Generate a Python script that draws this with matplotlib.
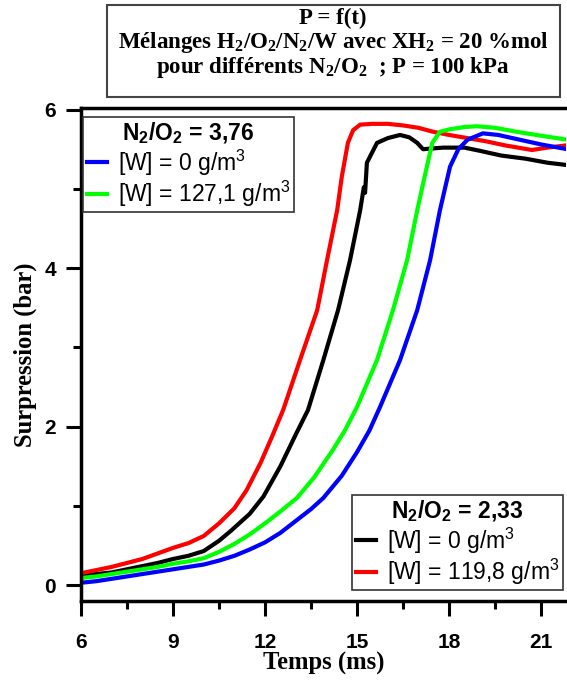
import matplotlib
matplotlib.use("Agg")
import matplotlib.pyplot as plt
from matplotlib.patches import Rectangle
from matplotlib.ticker import MultipleLocator

# N2/O2 = 2,33 ; [W] = 0 g/m3
t_noir = [6.0, 6.5, 7.0, 7.5, 8.0, 8.5, 9.0, 9.5, 10.0, 10.5, 10.9, 11.5, 11.95,
          12.5, 13.0, 13.4, 13.9, 14.38, 14.77, 15.1, 15.22, 15.26, 15.32, 15.65,
          16.0, 16.4, 16.7, 16.96, 17.15, 17.8, 18.5, 19.0, 19.7, 20.5, 21.2, 21.85]
p_noir = [0.12, 0.14, 0.16, 0.2, 0.24, 0.28, 0.33, 0.37, 0.43, 0.56, 0.69, 0.9, 1.12,
          1.5, 1.9, 2.21, 2.84, 3.47, 4.1, 4.73, 5.02, 4.95, 5.33, 5.58,
          5.64, 5.68, 5.65, 5.58, 5.5, 5.52, 5.52, 5.48, 5.42, 5.38, 5.33, 5.3]

# N2/O2 = 2,33 ; [W] = 119,8 g/m3
t_rouge = [6.0, 6.5, 7.0, 7.5, 8.0, 8.5, 9.0, 9.5, 10.0, 10.5, 11.0, 11.4, 11.85,
           12.2, 12.59, 13.14, 13.7, 14.02, 14.35, 14.5, 14.7, 14.87, 15.1, 15.5,
           16.0, 16.5, 17.0, 17.48, 18.0, 18.6, 19.2, 19.8, 20.7, 21.2, 21.85]
p_rouge = [0.15, 0.19, 0.23, 0.28, 0.33, 0.4, 0.47, 0.53, 0.62, 0.78, 0.97, 1.2, 1.54,
           1.85, 2.21, 2.84, 3.47, 4.1, 4.73, 5.15, 5.58, 5.74, 5.81, 5.82,
           5.82, 5.8, 5.77, 5.72, 5.68, 5.64, 5.6, 5.55, 5.49, 5.52, 5.55]

# N2/O2 = 3,76 ; [W] = 127,1 g/m3
t_vert = [6.0, 6.5, 7.0, 7.5, 8.0, 8.5, 9.0, 9.5, 10.0, 10.5, 11.0, 11.5, 12.0,
          12.5, 13.04, 13.6, 14.2, 14.6, 15.0, 15.65, 16.17, 16.63, 16.96, 17.2,
          17.45, 17.7, 18.0, 18.5, 18.9, 19.5, 20.2, 21.0, 21.85]
p_vert = [0.09, 0.11, 0.14, 0.17, 0.2, 0.23, 0.27, 0.3, 0.34, 0.42, 0.52, 0.64, 0.78,
          0.93, 1.1, 1.36, 1.7, 1.95, 2.25, 2.84, 3.47, 4.1, 4.73, 5.15,
          5.58, 5.72, 5.75, 5.78, 5.79, 5.77, 5.72, 5.67, 5.62]

# N2/O2 = 3,76 ; [W] = 0 g/m3
t_bleu = [6.0, 6.5, 7.0, 7.5, 8.0, 8.5, 9.0, 9.5, 10.0, 10.5, 11.0, 11.5, 12.0,
          12.5, 13.0, 13.5, 13.9, 14.5, 15.0, 15.4, 15.75, 16.4, 16.96, 17.38,
          17.7, 18.03, 18.3, 18.6, 19.1, 19.6, 20.3, 21.0, 21.85]
p_bleu = [0.03, 0.05, 0.08, 0.11, 0.14, 0.17, 0.2, 0.23, 0.26, 0.31, 0.37, 0.45, 0.54,
          0.66, 0.81, 0.96, 1.1, 1.38, 1.68, 1.95, 2.25, 2.84, 3.47, 4.1,
          4.73, 5.28, 5.5, 5.62, 5.7, 5.68, 5.62, 5.56, 5.5]

serif = "Liberation Serif"
sans = "Liberation Sans"

W, H = 567, 680
fig = plt.figure(figsize=(W / 100, H / 100), dpi=100)
ax = fig.add_axes([81 / W, 1 - 601 / H, (566 - 81) / W, (601 - 108) / H])

l_noir, = ax.plot(t_noir, p_noir, color="black", lw=3, label="[W] = 0 g/$\\mathregular{m^3}$")
l_rouge, = ax.plot(t_rouge, p_rouge, color="#ff0000", lw=3, label="[W] = 119,8 g/$\\mathregular{m^3}$")
l_vert, = ax.plot(t_vert, p_vert, color="#00ff00", lw=3, label="[W] = 127,1 g/$\\mathregular{m^3}$")
l_bleu, = ax.plot(t_bleu, p_bleu, color="#0000ff", lw=3, label="[W] = 0 g/$\\mathregular{m^3}$")

ax.set_xlim(6, 21.81)
ax.set_ylim(-0.2, 6.02)
ax.xaxis.set_major_locator(MultipleLocator(3))
ax.xaxis.set_minor_locator(MultipleLocator(1.5))
ax.yaxis.set_major_locator(MultipleLocator(2))
ax.yaxis.set_minor_locator(MultipleLocator(1))
ax.tick_params(which="major", direction="out", length=11, width=2.2)
ax.tick_params(which="minor", direction="out", length=5.5, width=2.2)
ax.tick_params(axis="x", which="major", pad=12)
ax.tick_params(axis="y", which="major", pad=7)
for lab in ax.get_xticklabels() + ax.get_yticklabels():
    lab.set_fontfamily(sans)
    lab.set_fontweight("bold")
    lab.set_fontsize(15)
for s in ["left", "bottom", "top"]:
    ax.spines[s].set_linewidth(2.5)
ax.spines["right"].set_visible(False)

ax.set_xlabel("Temps (ms)", family=serif, weight="bold", fontsize=17.7, labelpad=0)
ax.set_ylabel("Surpression (bar)", family=serif, weight="bold", fontsize=17.7, labelpad=5)

leg_kw = dict(loc="upper left", bbox_transform=fig.transFigure, frameon=True,
              fancybox=False, edgecolor="#333333", framealpha=1, borderaxespad=0,
              borderpad=0.16, labelspacing=0.04, handlelength=0.9, handletextpad=0.45,
              prop={"family": sans, "size": 16.5},
              title_fontproperties={"family": sans, "weight": "bold", "size": 16.5})

leg1 = ax.legend(handles=[l_bleu, l_vert], bbox_to_anchor=(83 / W, 1 - 117 / H),
                 title="$\\mathregular{N_2/O_2}$ = 3,76", **leg_kw)
leg1.get_frame().set_linewidth(1.2)
ax.add_artist(leg1)

leg2 = ax.legend(handles=[l_noir, l_rouge], bbox_to_anchor=(352 / W, 1 - 495 / H),
                 title="$\\mathregular{N_2/O_2}$ = 2,33", **leg_kw)
leg2.get_frame().set_linewidth(1.2)

# cadre du titre
fig.patches.append(Rectangle((107 / W, 1 - 97 / H), (560 - 107) / W, (97 - 5) / H,
                             transform=fig.transFigure, fill=False,
                             edgecolor="#444444", lw=1.5))
titre = ["P = f(t)",
         "Mélanges $\\mathregular{H_2/O_2/N_2}$/W avec X$\\mathregular{H_2}$ = 20 %mol",
         "pour différents $\\mathregular{N_2/O_2}$  ; P = 100 kPa"]
for ligne, yb in zip(titre, [24, 48, 73]):
    fig.text(333 / W, 1 - yb / H, ligne, ha="center", va="baseline",
             family=serif, weight="bold", fontsize=16.5)

fig.savefig("out.png", dpi=100)
